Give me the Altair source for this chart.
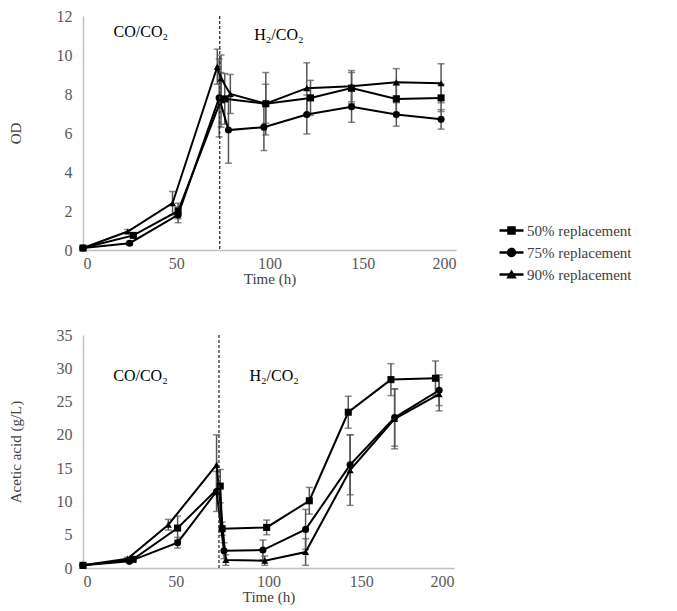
import altair as alt
import pandas as pd

series = ["50% replacement", "75% replacement", "90% replacement"]

# OD (top panel)
od_t50 = [0, 27, 51, 74, 76, 98, 122, 144, 168, 192]
od_v50 = [0.1, 0.75, 2.0, 7.7, 7.75, 7.5, 7.8, 8.3, 7.75, 7.8]
od_e50 = [0.05, 0.1, 0.4, 1.4, 1.3, 1.6, 0.9, 0.8, 0.7, 0.7]

od_t75 = [0, 25, 51, 73, 78, 97, 120, 144, 168, 192]
od_v75 = [0.1, 0.35, 1.8, 7.8, 6.15, 6.3, 6.95, 7.35, 6.95, 6.7]
od_e75 = [0.05, 0.1, 0.4, 2.0, 1.7, 1.2, 1.0, 0.8, 0.6, 0.5]

od_t90 = [0, 24, 48, 72, 74, 79, 98, 120, 144, 168, 192]
od_v90 = [0.1, 0.95, 2.4, 9.4, 8.8, 8.0, 7.5, 8.3, 8.4, 8.6, 8.55]
od_e90 = [0.05, 0.1, 0.6, 0.9, 1.2, 1.0, 1.0, 1.3, 0.8, 0.7, 1.0]

# Acetic acid (bottom panel)
aa_t50 = [0, 27, 51, 74, 75, 99, 122, 143, 166, 190]
aa_v50 = [0.4, 1.3, 6.0, 12.3, 5.9, 6.1, 10.1, 23.4, 28.3, 28.5]
aa_e50 = [0.1, 0.2, 1.8, 2.5, 1.0, 1.1, 2.0, 2.4, 2.4, 2.6]

aa_t75 = [0, 25, 51, 72, 76, 97, 120, 144, 168, 192]
aa_v75 = [0.4, 1.0, 3.8, 11.5, 2.6, 2.7, 5.8, 15.5, 22.6, 26.7]
aa_e75 = [0.1, 0.2, 0.8, 3.0, 1.2, 1.5, 3.0, 4.5, 4.3, 2.3]

aa_t90 = [0, 24, 46, 72, 77, 98, 120, 144, 168, 192]
aa_v90 = [0.4, 1.4, 6.5, 15.5, 1.2, 1.1, 2.4, 14.7, 22.4, 26.1]
aa_e90 = [0.1, 0.2, 0.8, 4.5, 0.8, 0.7, 2.0, 5.3, 4.5, 2.5]

switch_time = 73.3

x_ticks = [0, 50, 100, 150, 200]
od_ticks = [0, 2, 4, 6, 8, 10, 12]
aa_ticks = [0, 5, 10, 15, 20, 25, 30, 35]

od_labels = ["CO/CO\u2082", "H\u2082/CO\u2082"]
od_label_t = [31, 105]
od_label_v = [11.2, 11.05]
aa_label_t = [31, 103]
aa_label_v = [28.8, 28.8]

FONT = "Liberation Serif"


def build(ts, vs, es):
    rows = []
    for name, t, v, e in zip(series, ts, vs, es):
        for ti, vi, ei in zip(t, v, e):
            rows.append({"series": name, "series_leg": name, "t": ti, "v": vi,
                         "lo": max(vi - ei, 0), "hi": vi + ei})
    return pd.DataFrame(rows)


od_df = build([od_t50, od_t75, od_t90], [od_v50, od_v75, od_v90], [od_e50, od_e75, od_e90])
aa_df = build([aa_t50, aa_t75, aa_t90], [aa_v50, aa_v75, aa_v90], [aa_e50, aa_e75, aa_e90])

legend_paths = [
    "M-2.4,-0.25L2.4,-0.25L2.4,0.25L-2.4,0.25Z M-0.85,-0.85L0.85,-0.85L0.85,0.85L-0.85,0.85Z",
    "M-2.4,-0.25L2.4,-0.25L2.4,0.25L-2.4,0.25Z M0.95,0A0.95,0.95 0 1,1 -0.95,0A0.95,0.95 0 1,1 0.95,0Z",
    "M-2.4,-0.25L2.4,-0.25L2.4,0.25L-2.4,0.25Z M0,-1.0L1.05,0.8L-1.05,0.8Z",
]


def panel(df, ymax, yticks, ytitle, w, h, lab_t, lab_v, title_pad, with_legend):
    xs = alt.Scale(domain=[0, 200], nice=False)
    ys = alt.Scale(domain=[0, ymax], nice=False)
    xax = alt.Axis(values=x_ticks, tickCount=20, format="d", title="Time (h)", labelOverlap=False)
    yax = alt.Axis(values=yticks, tickCount=20, format="d", title=ytitle,
                   titlePadding=title_pad, labelOverlap=False)

    def X(f="t"):
        return alt.X(f + ":Q", scale=xs, axis=xax)

    def Y(f):
        return alt.Y(f + ":Q", scale=ys, axis=yax)

    base = alt.Chart(df)
    err = base.mark_rule(color="#555555", strokeWidth=1.5).encode(
        x=X(), y=Y("lo"), y2="hi:Q")
    cap_lo = base.mark_tick(orient="horizontal", size=7, thickness=1.5, color="#555555").encode(
        x=X(), y=Y("lo"))
    cap_hi = base.mark_tick(orient="horizontal", size=7, thickness=1.5, color="#555555").encode(
        x=X(), y=Y("hi"))
    line = base.mark_line(color="black", strokeWidth=2).encode(
        x=X(), y=Y("v"), detail="series:N")
    pts = base.mark_point(filled=True, color="black", size=50, opacity=1).encode(
        x=X(), y=Y("v"),
        shape=alt.Shape("series:N", scale=alt.Scale(domain=series,
                        range=["square", "circle", "triangle-up"]), legend=None))
    rule = alt.Chart(pd.DataFrame({"t": [switch_time]})).mark_rule(
        color="#333333", strokeDash=[3, 2], strokeWidth=1.3).encode(x=X())
    txt = alt.Chart(pd.DataFrame({"t": lab_t, "v": lab_v, "label": od_labels})).mark_text(
        font=FONT, fontSize=16, color="black").encode(x=X(), y=Y("v"), text="label:N")
    layers = [err, cap_lo, cap_hi, line, pts, rule, txt]
    if with_legend:
        leg = base.mark_point(filled=True, color="black", opacity=0).encode(
            x=X(), y=Y("v"), size=alt.value(49),
            shape=alt.Shape("series_leg:N",
                            scale=alt.Scale(domain=series, range=legend_paths),
                            legend=alt.Legend(title=None, orient="none", legendX=421, legendY=207,
                                              symbolOpacity=1, symbolFillColor="black",
                                              symbolStrokeWidth=0, labelOffset=8,
                                              labelFont=FONT, labelFontSize=15,
                                              labelColor="#404040", rowPadding=6, padding=0)))
        layers.append(leg)
    ch = alt.layer(*layers).properties(width=w, height=h)
    if with_legend:
        ch = ch.resolve_scale(shape="independent")
    return ch


top = panel(od_df, 12, od_ticks, "OD", 373, 234, od_label_t, od_label_v, 33, True)
bottom = panel(aa_df, 35, aa_ticks, "Acetic acid (g/L)", 371, 233, aa_label_t, aa_label_v, 33, False)

chart = alt.vconcat(top, bottom, spacing=41).properties(
    padding={"left": 0, "top": 0, "right": 5, "bottom": 5}
).configure_view(stroke=None).configure_axis(
    grid=False, ticks=False, domainColor="#bfbfbf", domainWidth=1.5, labelOverlap=False,
    labelFont=FONT, labelFontSize=16, labelColor="#595959", labelPadding=11,
    titleFont=FONT, titleFontSize=15, titleColor="#404040", titleFontWeight="normal",
).configure_axisX(labelPadding=5, titlePadding=0)

chart.save("out.html", embed_options={"renderer": "svg", "actions": False})
